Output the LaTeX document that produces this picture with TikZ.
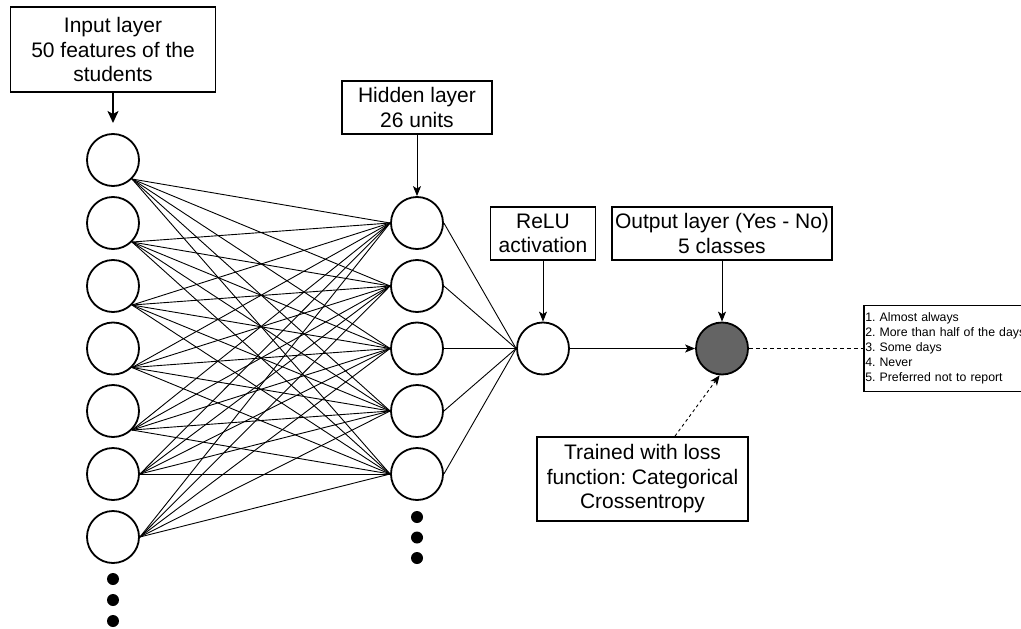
\documentclass[tikz,border=0pt]{standalone}
\usepackage{fontspec}
\setmainfont{Liberation Sans}
\usetikzlibrary{arrows.meta}
\definecolor{outgray}{RGB}{100,100,100}
\frenchspacing
\begin{document}
\begin{tikzpicture}[x=1pt,y=-1pt,
  neuron/.style={circle,draw,line width=1.8pt,minimum size=52pt,inner sep=0pt},
  labelbox/.style={draw,line width=1.8pt,align=center,inner sep=0pt,font=\fontsize{21}{24.5}\selectfont},
  edge/.style={line width=0.9pt},
  arr/.style={line width=0.9pt,-{Stealth[length=10pt,width=8pt,inset=2.5pt]}},
  dotnode/.style={circle,fill,minimum size=12pt,inner sep=0pt}]
\useasboundingbox (0,0) rectangle (1021,629);
% input layer
\foreach \i/\y in {1/160,2/223,3/286,4/348.5,5/411,6/474,7/537}
  \node[neuron] (i\i) at (113,\y) {};
\foreach \k/\y in {1/579,2/600,3/621}
  \node[dotnode] (d\k) at (113,\y) {};
% hidden layer
\foreach \j/\y in {1/223,2/286,3/348.5,4/411,5/474}
  \node[neuron] (h\j) at (417,\y) {};
\foreach \k/\y in {1/517,2/537.5,3/558}
  \node[dotnode] (e\k) at (417,\y) {};
% relu and output
\node[neuron] (relu) at (543,348.5) {};
\node[neuron,fill=outgray] (out) at (722,348.5) {};
% connections input -> hidden
\foreach \i/\a in {1/south east,2/south east,3/south east,4/south east,5/south east,6/east,7/east}
  \foreach \j in {1,...,5}
    \draw[edge] (i\i.\a) -- (h\j.west);
% hidden -> relu
\foreach \j in {1,...,5}
  \draw[edge] (h\j.east) -- (relu.west);
\draw[arr] (relu.east) -- (out.west);
% boxes
\node[labelbox,minimum width=205pt,minimum height=85pt] (inbox) at (113,49.5) {Input layer\\50 features of the\\students};
\coordinate (intip) at (113,123);
\draw[line width=1.8pt,-{Stealth[length=12pt,width=11pt,inset=3pt]}] (inbox.south) -- (intip);
\node[labelbox,minimum width=150pt,minimum height=53pt] (hbox) at (417,107.5) {Hidden layer\\26 units};
\draw[arr] (hbox.south) -- (h1.north);
\node[labelbox,minimum width=105pt,minimum height=53pt] (rbox) at (543,233.5) {ReLU\\activation};
\draw[arr] (rbox.south) -- (relu.north);
\node[labelbox,minimum width=220pt,minimum height=53pt] (obox) at (722,233.5) {Output layer (Yes - No)\\5 classes};
\draw[arr] (obox.south) -- (out.north);
\node[labelbox,minimum width=211pt,minimum height=84pt] (tbox) at (642.5,479) {Trained with loss\\function: Categorical\\Crossentropy};
\draw[arr,dash pattern=on 3pt off 3pt] ([xshift=32.5pt]tbox.north) -- (out.-95);
% classes box
\node[draw,line width=1.5pt,anchor=west,text width=172pt,inner xsep=1.5pt,inner ysep=0pt,minimum height=86pt,align=left,font=\fontsize{12.3}{15}\selectfont] (cls) at (863,348.5) {1. Almost always\\2. More than half of the days\\3. Some days\\4. Never\\5. Preferred not to report};
\draw[line width=0.9pt,dash pattern=on 4pt off 3pt] (out.east) -- (cls.west);
\end{tikzpicture}
\end{document}
